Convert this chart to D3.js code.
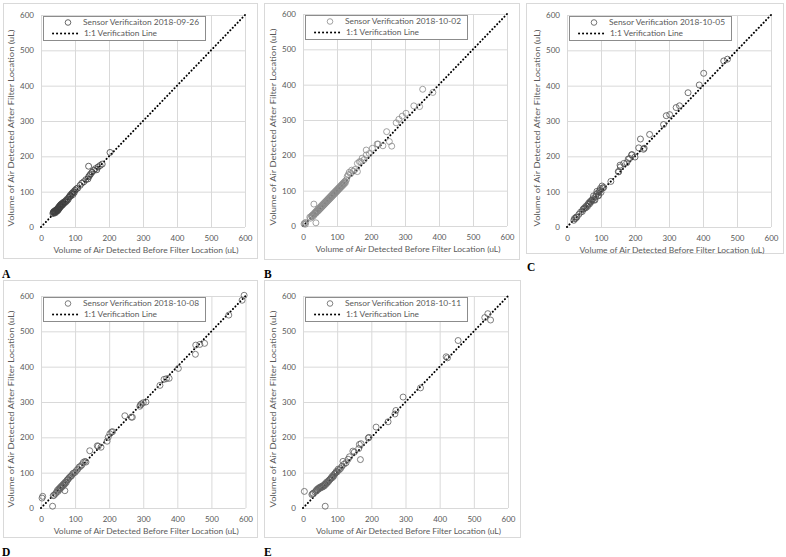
<!DOCTYPE html>
<html>
<head>
<meta charset="utf-8">
<script src="https://cdn.jsdelivr.net/npm/d3@7"></script>
<style>
  body { margin: 0; background: #fff; }
  svg { display: block; }
</style>
</head>
<body>
<svg id="chart" width="786" height="557"></svg>
<script>
// tick values shared by both axes on every panel
var ticks = [0, 100, 200, 300, 400, 500, 600];
var lineLabel = "1:1 Verification Line";
var xTitle = "Volume of Air Detected Before Filter Location (uL)";
var yTitle = "Volume of Air Detected After Filter Location (uL)";
var oneToOne = [[0, 0], [600, 600]];

// [before, after] pairs
var seriesNames = ["Sensor Verificaiton 2018-09-26", "Sensor Verification 2018-10-02",
  "Sensor Verification 2018-10-05", "Sensor Verification 2018-10-08", "Sensor Verification 2018-10-11"];
var panelLetters = ["A", "B", "C", "D", "E"];

var pointsA = [[35,38],[36,42],[37,40],[38,44],[39,41],[40,43],[41,46],[42,40],[43,45],[44,48],[45,44],[46,47],
  [47,50],[48,45],[49,52],[50,48],[51,55],[52,50],[53,57],[54,53],[55,60],[56,56],[57,62],[58,58],[59,64],[60,60],
  [61,66],[62,62],[64,67],[65,64],[66,70],[68,68],[70,72],[72,70],[74,76],[76,74],[78,80],[80,78],[82,84],[84,86],
  [86,90],[88,88],[90,94],[92,96],[94,92],[96,100],[98,98],[100,104],[104,108],[108,110],[115,118],[120,124],
  [126,128],[132,134],[138,136],[140,142],[140,172],[143,146],[146,150],[150,155],[155,160],[160,165],[164,162],
  [168,170],[174,174],[180,178],[203,211]];

var pointsB = [[3,6],[5,8],[7,5],[8,10],[32,62],[38,9],[20,25],[22,22],[25,28],[27,30],[28,26],[30,33],[32,30],
  [34,37],[35,35],[37,40],[38,36],[40,43],[41,40],[43,46],[44,42],[46,49],[47,45],[49,52],[50,48],[52,55],[53,51],
  [55,58],[56,54],[58,61],[59,57],[61,64],[62,60],[64,67],[65,63],[67,70],[68,66],[70,73],[71,69],[73,76],[74,72],
  [76,79],[77,75],[79,82],[80,78],[82,85],[83,81],[85,88],[86,84],[88,91],[89,87],[91,94],[92,90],[94,97],[95,93],
  [97,100],[98,96],[100,103],[101,99],[103,106],[104,102],[106,109],[107,105],[109,112],[110,108],[112,115],
  [113,111],[115,118],[116,114],[118,121],[119,117],[121,124],[122,120],[124,127],[125,123],[128,131],[130,140],
  [133,145],[136,152],[140,148],[143,158],[148,155],[153,160],[160,154],[160,177],[166,182],[170,182],[174,192],
  [180,188],[186,201],[186,215],[195,205],[204,220],[218,232],[221,232],[235,227],[246,267],[254,239],[261,226],
  [274,292],[282,302],[292,311],[303,319],[326,340],[343,338],[352,387],[382,378]];

var pointsC = [[20,19],[22,24],[25,24],[27,28],[29,28],[35,36],[40,42],[45,44],[47,50],[50,52],[52,55],[55,54],
  [57,60],[60,58],[62,64],[64,68],[66,65],[68,72],[70,70],[72,75],[74,76],[76,80],[78,88],[80,77],[82,76],[84,85],
  [86,92],[88,101],[90,96],[92,88],[93,90],[95,100],[97,104],[98,109],[100,98],[103,116],[105,110],[108,112],
  [129,129],[151,157],[152,156],[156,175],[157,170],[167,180],[176,182],[180,192],[184,194],[190,204],[191,205],
  [200,198],[211,224],[216,249],[225,220],[227,223],[243,262],[284,290],[292,315],[302,318],[321,338],[331,343],
  [356,380],[389,402],[402,435],[461,470],[472,475]];

var pointsD = [[3,28],[5,33],[34,5],[36,35],[38,36],[42,40],[45,44],[48,50],[50,47],[52,54],[54,52],[56,58],
  [58,56],[60,62],[62,60],[64,66],[66,64],[68,70],[70,49],[70,68],[72,74],[74,72],[76,78],[78,80],[80,82],[82,85],
  [85,88],[88,90],[90,92],[93,97],[96,99],[100,101],[104,106],[108,110],[112,116],[116,118],[120,122],[124,129],
  [129,132],[132,130],[143,162],[165,176],[168,175],[176,172],[194,189],[197,200],[202,210],[207,215],[210,216],
  [246,261],[265,257],[268,257],[290,288],[292,292],[295,295],[300,298],[308,300],[349,347],[361,364],[368,366],
  [376,367],[403,395],[453,435],[454,461],[466,463],[480,466],[551,546],[590,588],[596,602]];

var pointsE = [[4,47],[26,38],[28,40],[30,42],[35,45],[38,48],[40,52],[42,50],[44,55],[46,54],[48,58],[50,56],
  [52,60],[54,58],[56,62],[58,60],[60,64],[62,62],[64,68],[65,5],[66,66],[68,72],[70,70],[72,75],[74,74],[76,78],
  [78,80],[80,82],[82,84],[84,88],[86,86],[88,92],[90,90],[92,96],[94,98],[96,100],[98,104],[100,102],[103,110],
  [106,108],[110,112],[114,118],[117,132],[120,124],[126,128],[132,138],[136,145],[146,161],[150,158],[163,168],
  [165,180],[168,137],[170,182],[191,198],[193,200],[214,229],[249,244],[269,266],[272,276],[293,314],[344,340],
  [419,428],[423,425],[454,474],[532,539],[541,550],[549,532]];

var allPoints = [pointsA, pointsB, pointsC, pointsD, pointsE];

// layout of each panel: outer frame, plot area, letter position, marker colour
var layout = [
  { frame: [3, 3, 257, 258], plot: [41, 15, 245, 227], letter: [2, 277.5], color: "#404040" },
  { frame: [264, 3, 519, 259], plot: [303, 14, 507, 226], letter: [264, 277.5], color: "#8a8a8a" },
  { frame: [526, 3, 783, 253], plot: [567, 15, 771, 227], letter: [527, 271], color: "#505050" },
  { frame: [3, 280, 257, 537], plot: [41, 296, 245.5, 508], letter: [2, 555.5], color: "#606060" },
  { frame: [264, 280, 520, 537], plot: [303, 296, 508, 508], letter: [264, 555.5], color: "#606060" }
];

var svg = d3.select("#chart");
var font = "Lato, 'Open Sans', sans-serif";

layout.forEach(function (p, i) {
  var g = svg.append("g");
  var pl = p.plot[0], pt = p.plot[1], pr = p.plot[2], pb = p.plot[3];

  g.append("rect")
    .attr("x", p.frame[0] + 0.5).attr("y", p.frame[1] + 0.5)
    .attr("width", p.frame[2] - p.frame[0]).attr("height", p.frame[3] - p.frame[1])
    .attr("fill", "#fff").attr("stroke", "#d9d9d9").attr("stroke-width", 1);

  var x = d3.scaleLinear().domain([0, 600]).range([pl, pr]);
  var y = d3.scaleLinear().domain([0, 600]).range([pb, pt]);

  // gridlines + tick labels
  var yAxis = g.append("g").attr("transform", "translate(" + pl + ",0)")
    .call(d3.axisLeft(y).tickValues(ticks).tickSize(-(pr - pl)).tickPadding(7));
  var xAxis = g.append("g").attr("transform", "translate(0," + pb + ")")
    .call(d3.axisBottom(x).tickValues(ticks).tickSize(-(pb - pt)).tickPadding(8));
  [xAxis, yAxis].forEach(function (a) {
    a.select(".domain").remove();
    a.selectAll(".tick line").attr("stroke", "#d9d9d9").attr("stroke-width", 1);
    a.selectAll(".tick text").attr("fill", "#595959")
      .style("font-family", font).style("font-size", "8px");
  });

  // 1:1 line
  g.append("path")
    .datum(oneToOne)
    .attr("d", d3.line().x(function (d) { return x(d[0]); }).y(function (d) { return y(d[1]); }))
    .attr("fill", "none").attr("stroke", "#000").attr("stroke-width", 2)
    .attr("stroke-linecap", "round").attr("stroke-dasharray", "0.1,3.4");

  // points
  g.append("g").selectAll("circle")
    .data(allPoints[i]).enter().append("circle")
    .attr("cx", function (d) { return x(d[0]); })
    .attr("cy", function (d) { return y(d[1]); })
    .attr("r", 3)
    .attr("fill", "none").attr("stroke", p.color).attr("stroke-width", 0.8);

  // legend
  var lg = g.append("g").attr("transform", "translate(" + pl + "," + pt + ")");
  lg.append("rect").attr("x", 2.5).attr("y", 1.5).attr("width", 162).attr("height", 24)
    .attr("fill", "#fff").attr("stroke", "#8c8c8c").attr("stroke-width", 1);
  lg.append("circle").attr("cx", 27).attr("cy", 7.5).attr("r", 2.8)
    .attr("fill", "none").attr("stroke", p.color).attr("stroke-width", 0.8);
  lg.append("text").attr("x", 42).attr("y", 10.3).text(seriesNames[i])
    .attr("textLength", 116).attr("lengthAdjust", "spacingAndGlyphs")
    .attr("fill", "#595959").style("font-family", font).style("font-size", "8px");
  lg.append("line").attr("x1", 12).attr("x2", 39).attr("y1", 18.5).attr("y2", 18.5)
    .attr("stroke", "#000").attr("stroke-width", 2)
    .attr("stroke-linecap", "round").attr("stroke-dasharray", "0.1,3.9");
  lg.append("text").attr("x", 43).attr("y", 21.3).text(lineLabel)
    .attr("textLength", 73).attr("lengthAdjust", "spacingAndGlyphs")
    .attr("fill", "#595959").style("font-family", font).style("font-size", "8px");

  // axis titles
  g.append("text").attr("x", (pl + pr) / 2 + 3).attr("y", pb + 26)
    .attr("text-anchor", "middle").text(xTitle)
    .attr("textLength", 185).attr("lengthAdjust", "spacingAndGlyphs")
    .attr("fill", "#595959").style("font-family", font).style("font-size", "8px");
  g.append("text")
    .attr("transform", "translate(" + (pl - 27) + "," + ((pt + pb) / 2 + 7) + ") rotate(-90)")
    .attr("text-anchor", "middle").text(yTitle)
    .attr("textLength", 197).attr("lengthAdjust", "spacingAndGlyphs")
    .attr("fill", "#595959").style("font-family", font).style("font-size", "8px");

  // panel letter
  g.append("text").attr("x", p.letter[0]).attr("y", p.letter[1]).text(panelLetters[i])
    .style("font-family", "'Liberation Serif', 'Times New Roman', serif")
    .style("font-weight", "bold").style("font-size", "11.5px").attr("fill", "#000");
});
</script>
</body>
</html>
